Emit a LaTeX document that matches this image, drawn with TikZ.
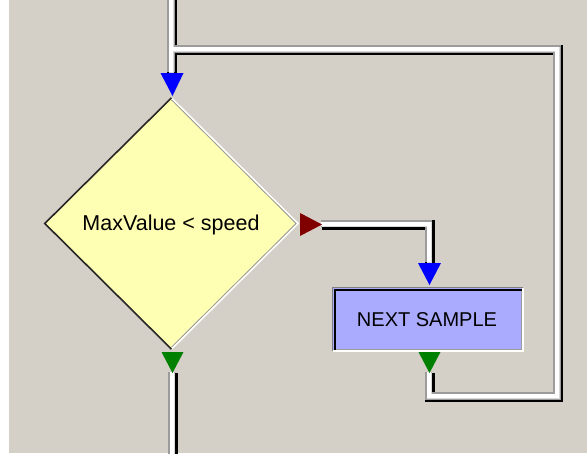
\documentclass[tikz,border=0pt]{standalone}
\usepackage{fontspec}
\setmainfont{Liberation Sans}
\usetikzlibrary{shapes.geometric}
\definecolor{bg}{HTML}{D4D0C8}
\definecolor{dyellow}{HTML}{FFFFB4}
\definecolor{lav}{HTML}{AAAAFF}
\definecolor{arrred}{HTML}{800000}
\definecolor{arrgreen}{HTML}{008000}
\definecolor{arrblue}{HTML}{0000FF}
\definecolor{pipegray}{HTML}{9C9C9C}
\definecolor{pipelight}{HTML}{D8D8D8}
\begin{document}
\begin{tikzpicture}[x=1pt,y=-1pt,
  layerA/.style={draw=black,line width=10pt,line join=miter},
  layerB/.style={draw=pipegray,line width=7.5pt,line join=miter},
  layerC/.style={draw=pipelight,line width=5pt,line join=miter},
  layerD/.style={draw=white,line width=4pt,line join=miter},
  label/.style={text=black}
]
\useasboundingbox (0,0) rectangle (587,453);
\clip (0,0) rectangle (587,453);
\fill[white] (0,0) rectangle (587,453);
\fill[bg] (9,0) rectangle (587,453);

% key points
\coordinate (t0) at (172,-12);
\coordinate (ta) at (172,73);
\coordinate (j1) at (172,50);
\coordinate (c1) at (558,50);
\coordinate (c2) at (558,397);
\coordinate (c3) at (429.5,397);
\coordinate (g2tip) at (429.5,373);
\coordinate (rtip) at (322,224.5);
\coordinate (c4) at (429.5,224.5);
\coordinate (b2) at (429.5,263);
\coordinate (g1tip) at (172.5,373);
\coordinate (bot) at (172.5,465);

% pipes, drawn layer by layer (#2 = offset towards upper left)
\newcommand\pipelayer[2]{%
  \path[#1] ([shift={(-#2,-#2)}]t0) -- ([shift={(-#2,-#2)}]ta)
            ([shift={(-#2,-#2)}]j1) -- ([shift={(-#2,-#2)}]c1) -- ([shift={(-#2,-#2)}]c2)
            -- ([shift={(-#2,-#2)}]c3) -- ([shift={(-#2,-#2)}]g2tip)
            ([shift={(-#2,-#2)}]rtip) -- ([shift={(-#2,-#2)}]c4) -- ([shift={(-#2,-#2)}]b2)
            ([shift={(-#2,-#2)}]g1tip) -- ([shift={(-#2,-#2)}]bot);}
\pipelayer{layerA}{0}
\pipelayer{layerB}{1.25}
\pipelayer{layerC}{0.5}
\pipelayer{layerD}{1}

% decision diamond
\node[diamond, fill=dyellow, minimum width=253pt, minimum height=251pt, inner sep=0pt] (dec) at (171.5,223.5) {};
\node[diamond, minimum width=249pt, minimum height=247pt, inner sep=0pt] (deci) at (171.5,223.5) {};
\draw[pipegray, line width=1pt] (deci.north) -- (deci.east) -- (deci.south);
\draw[white, line width=1.4pt] (dec.north) -- (dec.east) -- (dec.south);
\draw[black!85, line width=1.6pt] (dec.south) -- (dec.west) -- (dec.north);
\node[label, font=\fontsize{21.5}{25}\selectfont] (dectext) at (171,224.5) {MaxValue < speed};

% process box
\node[rectangle, fill=lav, minimum width=190pt, minimum height=63pt, inner sep=0pt] (next) at (428,319.5) {};
\draw[white, line width=1.5pt] (next.south west) -- (next.south east) -- (next.north east);
\draw[pipegray, line width=1.5pt] ([shift={(1.5,-1.5)}]next.south west) -- ([shift={(-1.5,-1.5)}]next.south east) -- ([shift={(-1.5,1.5)}]next.north east);
\draw[gray, line width=1.2pt] (next.south west) -- (next.north west) -- (next.north east);
\draw[black, line width=2pt] ([shift={(2,-1.5)}]next.south west) -- ([shift={(2,2)}]next.north west) -- ([shift={(-1.5,2)}]next.north east);
\node[label, font=\fontsize{20}{24}\selectfont] (nexttext) at (427,320) {NEXT SAMPLE};

% arrowheads
\fill[arrblue, shift={(ta)}] (-11.5,0) -- (11.5,0) -- (0.5,23) -- cycle;
\fill[arrred, shift={(rtip)}] (-22,-11.5) -- (-22,11.5) -- (0,0) -- cycle;
\fill[arrblue, shift={(b2)}] (-11.5,0) -- (11.5,0) -- (0,22) -- cycle;
\fill[arrgreen, shift={(g1tip)}] (-11,-21) -- (11,-21) -- (0,0) -- cycle;
\fill[arrgreen, shift={(g2tip)}] (-11,-21) -- (11,-21) -- (0,0) -- cycle;
\end{tikzpicture}
\end{document}
